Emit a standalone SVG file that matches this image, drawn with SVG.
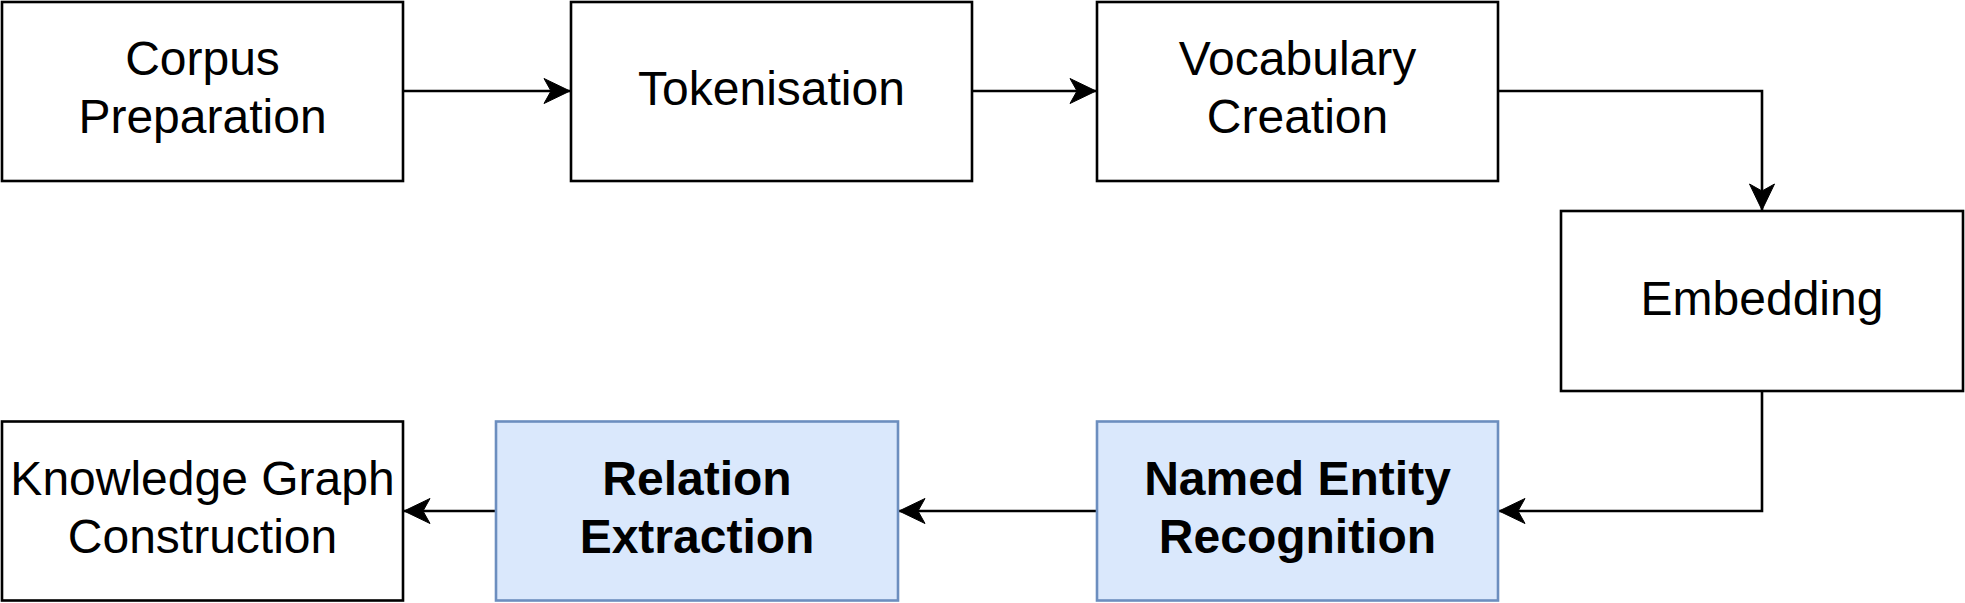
<svg xmlns="http://www.w3.org/2000/svg" width="1965" height="603" viewBox="0 0 1965 603">
<defs>
<style>
.box{fill:#ffffff;stroke:#000000;stroke-width:2.6}
.hl{fill:#dae8fc;stroke:#6c8ebf;stroke-width:2.6}
.t{font-family:"Liberation Sans",Arial,Helvetica,sans-serif;font-size:48px;fill:#000000;text-anchor:middle}
.b{font-weight:bold}
.edge{fill:none;stroke:#000000;stroke-width:2.6}
</style>
<marker id="arr" markerUnits="userSpaceOnUse" viewBox="-27 -14 28 28" refX="0" refY="0" markerWidth="28" markerHeight="28" orient="auto">
<path d="M0,0 L-26,-12.5 L-19,0 L-26,12.5 Z" fill="#000000" stroke="#000000" stroke-width="1"/>
</marker>
</defs>
<rect width="1965" height="603" fill="#ffffff"/>
<g id="edges">
<line class="edge" x1="403" y1="91" x2="570" y2="91" marker-end="url(#arr)"/>
<line class="edge" x1="972" y1="91" x2="1096" y2="91" marker-end="url(#arr)"/>
<polyline class="edge" points="1498,91 1762,91 1762,210" marker-end="url(#arr)"/>
<polyline class="edge" points="1762,391 1762,511 1499,511" marker-end="url(#arr)"/>
<line class="edge" x1="1097" y1="511" x2="899" y2="511" marker-end="url(#arr)"/>
<line class="edge" x1="496" y1="511" x2="404" y2="511" marker-end="url(#arr)"/>
</g>
<g id="corpus">
<rect class="box" x="2" y="2" width="401" height="179"/>
<text class="t" x="202.5" y="75">Corpus</text>
<text class="t" x="202.5" y="133">Preparation</text>
</g>
<g id="tokenisation">
<rect class="box" x="571" y="2" width="401" height="179"/>
<text class="t" x="771.5" y="105">Tokenisation</text>
</g>
<g id="vocabulary">
<rect class="box" x="1097" y="2" width="401" height="179"/>
<text class="t" x="1297.5" y="75">Vocabulary</text>
<text class="t" x="1297.5" y="133">Creation</text>
</g>
<g id="embedding">
<rect class="box" x="1561" y="211" width="402" height="180"/>
<text class="t" x="1762" y="315">Embedding</text>
</g>
<g id="ner">
<rect class="hl" x="1097" y="421.5" width="401" height="179"/>
<text class="t b" x="1297.5" y="495">Named Entity</text>
<text class="t b" x="1297.5" y="553">Recognition</text>
</g>
<g id="relation">
<rect class="hl" x="496" y="421.5" width="402" height="179"/>
<text class="t b" x="697" y="495">Relation</text>
<text class="t b" x="697" y="553">Extraction</text>
</g>
<g id="kg">
<rect class="box" x="2" y="421.5" width="401" height="179"/>
<text class="t" x="202.5" y="495">Knowledge Graph</text>
<text class="t" x="202.5" y="553">Construction</text>
</g>
</svg>
